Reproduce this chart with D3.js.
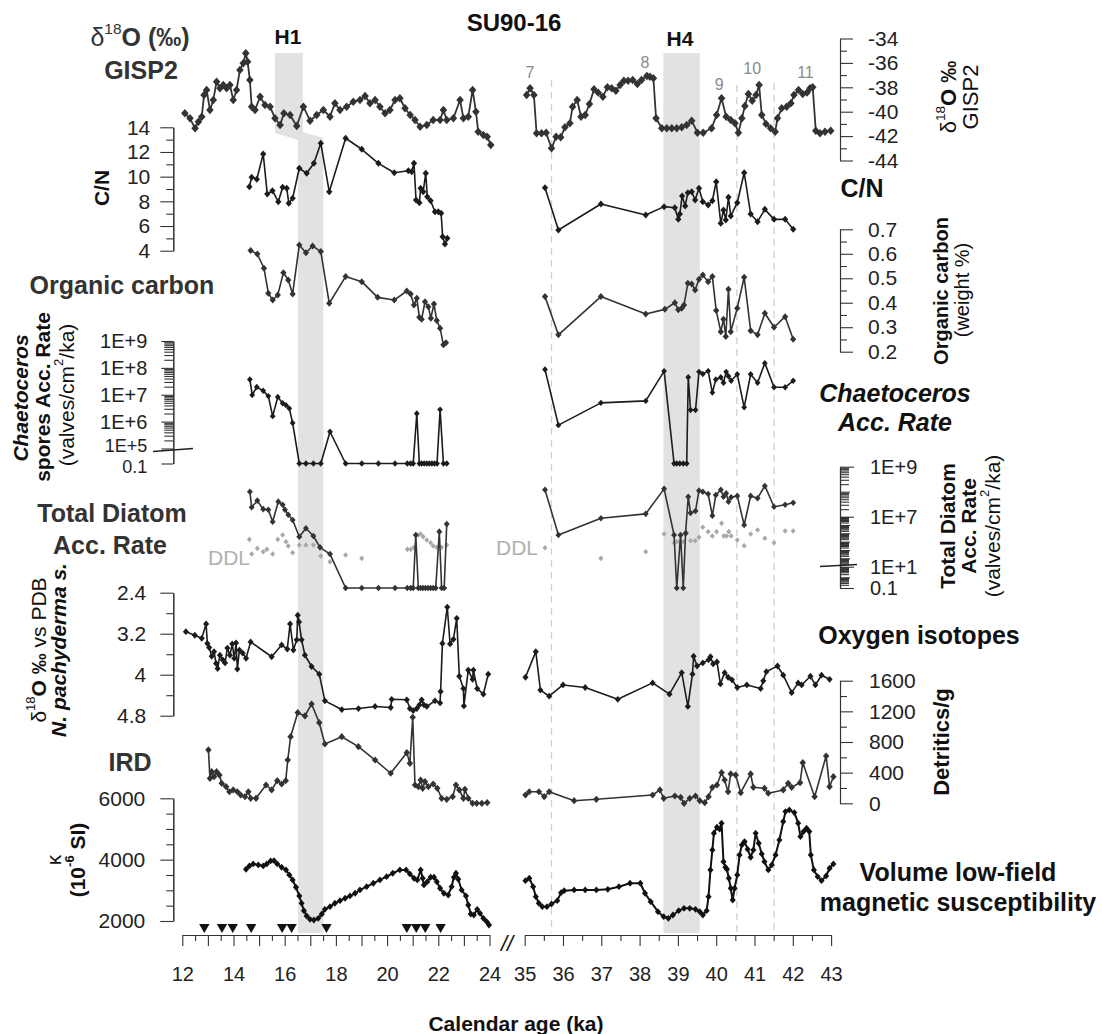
<!DOCTYPE html>
<html><head><meta charset="utf-8">
<script src="https://cdn.jsdelivr.net/npm/d3@7"></script>
<style>
body{margin:0;background:#fff}
svg{display:block}
text{font-family:"Liberation Sans",Arial,Helvetica,sans-serif}
</style>
</head><body>
<svg id="c" width="1102" height="1034"></svg>
<script>
// ---------------- DATA ----------------
const xTicksLeft = [12,13,14,15,16,17,18,19,20,21,22,23,24];
const xTicksRight = [35,36,37,38,39,40,41,42,43];
const heinrich = [{name:"H1", top:[15.62,16.71], bottom:[16.52,17.51]}, {name:"H4", top:[38.62,39.57], bottom:[38.62,39.57]}];
const dashedAges = [35.7,40.54,41.51];
const gispEvents = [["7",35.14],["8",38.14],["9",40.08],["10",40.94],["11",42.33]];
const ageControl = [12.86,13.55,13.97,14.69,15.9,16.27,17.63,20.77,21.14,21.49,22.09];

const gispLeft = [[12.1,-40.13],[12.3,-40.54],[12.5,-41.36],[12.63,-40.82],[12.76,-40.41],[12.85,-38.63],[12.95,-38.22],[13.08,-39.86],[13.21,-39.04],[13.34,-37.54],[13.47,-38.08],[13.6,-37.81],[13.73,-38.08],[13.86,-37.81],[13.99,-39.04],[14.12,-38.22],[14.25,-36.58],[14.38,-36.03],[14.48,-35.21],[14.55,-35.9],[14.64,-37.4],[14.71,-39.59],[14.84,-39.86],[15.04,-38.77],[15.23,-39.45],[15.43,-39.59],[15.62,-40.54],[15.82,-41.09],[15.97,-40.13],[16.21,-40.27],[16.47,-41.17],[16.73,-39.59],[16.99,-40.74],[17.25,-40.27],[17.51,-39.86],[17.77,-40.41],[17.96,-39.31],[18.16,-39.86],[18.42,-39.59],[18.68,-39.18],[18.94,-39.04],[19.14,-38.71],[19.33,-39.31],[19.53,-39.04],[19.72,-39.59],[19.92,-40.13],[20.11,-39.86],[20.31,-39.04],[20.5,-38.9],[20.7,-39.72],[20.9,-40.27],[21.09,-40.68],[21.29,-41.23],[21.55,-41.09],[21.8,-40.68],[22.07,-40.68],[22.2,-39.86],[22.33,-40.68],[22.59,-40.54],[22.85,-39.04],[22.98,-40.54],[23.17,-40.41],[23.34,-38.22],[23.47,-40.0],[23.56,-41.64],[23.76,-41.91],[23.91,-42.05],[24.05,-42.73]];
const gispRight = [[35.05,-38.63],[35.14,-38.08],[35.24,-38.63],[35.31,-41.77],[35.44,-41.77],[35.56,-41.72],[35.7,-43.0],[35.82,-42.05],[35.94,-42.1],[36.05,-41.28],[36.18,-40.95],[36.25,-39.59],[36.37,-39.04],[36.47,-40.41],[36.58,-40.27],[36.69,-39.37],[36.81,-38.16],[36.92,-38.44],[37.04,-38.77],[37.16,-38.0],[37.27,-38.08],[37.38,-38.28],[37.49,-37.81],[37.59,-37.46],[37.7,-37.46],[37.82,-37.4],[37.94,-37.73],[38.05,-37.4],[38.19,-37.07],[38.27,-37.13],[38.36,-37.26],[38.43,-40.54],[38.58,-41.36],[38.71,-41.36],[38.84,-41.36],[38.97,-41.36],[39.1,-41.28],[39.23,-41.09],[39.36,-40.74],[39.51,-41.72],[39.66,-41.72],[39.88,-41.36],[40.01,-40.27],[40.14,-38.9],[40.26,-40.41],[40.38,-40.68],[40.49,-40.95],[40.58,-41.72],[40.67,-40.54],[40.75,-39.53],[40.84,-38.55],[40.94,-39.1],[41.04,-38.63],[41.12,-37.81],[41.19,-40.27],[41.3,-41.0],[41.42,-41.36],[41.54,-41.64],[41.6,-40.54],[41.71,-39.72],[41.84,-39.59],[41.95,-39.31],[42.03,-38.63],[42.15,-38.22],[42.26,-38.55],[42.37,-38.44],[42.45,-38.08],[42.52,-38.0],[42.6,-41.56],[42.71,-41.77],[42.84,-41.64],[42.99,-41.56]];

const cnLeft = [[14.62,9.19],[14.71,9.95],[14.91,9.79],[15.16,11.84],[15.32,8.59],[15.52,8.86],[15.75,7.97],[15.92,9.14],[16.08,9.06],[16.16,7.84],[16.31,8.25],[16.57,10.68],[16.86,10.27],[17.14,11.08],[17.41,12.7],[17.74,8.78],[18.38,13.11],[19.01,12.22],[19.66,11.08],[20.28,10.32],[20.83,10.48],[20.96,10.4],[21.05,11.08],[21.13,8.11],[21.26,7.89],[21.31,9.06],[21.41,8.78],[21.51,10.27],[21.57,8.38],[21.7,8.05],[21.87,7.16],[22.0,7.16],[22.11,7.03],[22.17,5.13],[22.26,4.54],[22.35,5.0]];
const cnRight = [[35.53,9.11],[35.88,5.68],[36.99,7.78],[38.16,6.89],[38.64,7.57],[38.92,7.48],[39.01,6.54],[39.05,6.97],[39.11,8.43],[39.19,7.62],[39.26,8.7],[39.36,8.78],[39.45,8.11],[39.55,9.06],[39.65,7.97],[39.79,7.7],[39.9,8.05],[40.0,9.59],[40.12,6.22],[40.19,7.3],[40.25,6.49],[40.32,8.33],[40.38,6.81],[40.55,7.89],[40.73,10.32],[40.9,6.97],[41.08,6.35],[41.27,7.35],[41.51,6.54],[41.8,6.54],[42.01,5.73]];

const ocLeft = [[14.67,0.613],[14.93,0.599],[15.19,0.541],[15.36,0.439],[15.53,0.411],[15.73,0.432],[15.95,0.523],[16.14,0.493],[16.31,0.436],[16.57,0.636],[16.83,0.604],[17.09,0.632],[17.41,0.609],[17.74,0.398],[18.38,0.507],[19.01,0.486],[19.63,0.422],[20.28,0.411],[20.77,0.448],[20.92,0.436],[21.05,0.391],[21.16,0.418],[21.26,0.341],[21.35,0.333],[21.48,0.404],[21.61,0.384],[21.71,0.337],[21.83,0.395],[21.94,0.327],[22.07,0.296],[22.2,0.228],[22.3,0.237]];
const ocRight = [[35.53,0.425],[35.88,0.269],[36.99,0.425],[38.16,0.354],[38.66,0.373],[38.92,0.4],[39.01,0.371],[39.1,0.378],[39.16,0.391],[39.26,0.48],[39.36,0.477],[39.45,0.452],[39.55,0.496],[39.65,0.513],[39.79,0.486],[39.9,0.507],[40.0,0.368],[40.12,0.282],[40.19,0.333],[40.25,0.262],[40.32,0.455],[40.38,0.282],[40.55,0.378],[40.73,0.504],[40.9,0.286],[41.08,0.269],[41.27,0.357],[41.51,0.3],[41.8,0.343],[42.01,0.251]];

// Chaetoceros spores acc. rate (valves/cm2/ka); 0.1 = not found
const chLeft = [[14.64,3.7e7],[14.73,9.8e6],[14.91,1.95e7],[15.16,1.4e7],[15.36,8.9e6],[15.53,1.6e6],[15.73,8.3e6],[15.92,4.8e6],[16.05,4.1e6],[16.18,3.1e6],[16.31,8.9e5],[16.57,0.1],[16.83,0.1],[17.12,0.1],[17.41,0.1],[17.77,4.2e5],[18.38,0.1],[19.01,0.1],[19.66,0.1],[20.31,0.1],[20.79,0.1],[20.92,0.1],[21.02,0.1],[21.16,2.0e6],[21.26,0.1],[21.35,0.1],[21.45,0.1],[21.55,0.1],[21.65,0.1],[21.75,0.1],[21.85,0.1],[21.95,0.1],[22.07,2.8e6],[22.2,0.1],[22.33,0.1]];
const chRight = [[35.53,8.7e7],[35.88,7.4e5],[36.99,5.0e6],[38.16,5.9e6],[38.64,7.6e7],[38.9,0.1],[38.97,0.1],[39.05,0.1],[39.14,0.1],[39.23,0.1],[39.27,4.5e7],[39.33,2.7e6],[39.46,2.7e6],[39.55,7.1e7],[39.65,5.9e7],[39.79,7.6e7],[39.9,1.2e7],[39.99,3.7e7],[40.12,4.5e7],[40.19,2.8e7],[40.26,7.1e7],[40.32,4.9e7],[40.39,3.3e7],[40.55,5.8e7],[40.73,3.4e6],[40.9,5.8e7],[41.08,2.8e7],[41.27,1.5e8],[41.51,1.9e7],[41.8,1.9e7],[42.01,3.3e7]];

// Total diatom acc. rate and detection limit (DDL)
const diLeft = [[14.64,1.0e8],[14.71,2.4e7],[14.93,4.4e7],[15.16,2.0e7],[15.36,1.9e7],[15.53,2.5e6],[15.75,4.0e7],[15.92,3.0e7],[16.01,1.9e7],[16.14,1.2e7],[16.31,4.0e6],[16.57,4.0e4],[16.83,4.1e5],[17.12,4.8e4],[17.38,2.1e3],[17.77,330],[18.38,0.1],[19.01,0.1],[19.66,0.1],[20.31,0.1],[20.79,0.1],[20.92,0.1],[21.02,0.1],[21.12,6.3e4],[21.22,0.1],[21.31,0.1],[21.4,0.1],[21.5,0.1],[21.6,0.1],[21.7,0.1],[21.8,0.1],[21.9,0.1],[22.04,1.6e5],[22.13,0.1],[22.23,0.1],[22.33,1.3e6]];
const diRight = [[35.53,1.2e8],[35.88,6.3e4],[36.99,6.5e6],[38.16,1.3e7],[38.64,1.3e8],[38.9,6.3e4],[38.97,0.1],[39.07,6.3e4],[39.14,0.1],[39.2,1.0e5],[39.27,6.3e7],[39.33,1.4e7],[39.46,1.7e7],[39.55,1.1e8],[39.65,1.0e8],[39.79,8.1e7],[39.9,1.1e7],[39.99,7.4e7],[40.12,1.2e8],[40.19,6.3e7],[40.26,8.7e7],[40.32,4.0e7],[40.39,6.0e7],[40.55,6.8e7],[40.73,1.0e6],[40.9,6.8e7],[41.08,5.5e7],[41.27,1.7e8],[41.51,2.5e7],[41.8,3.0e7],[42.01,3.6e7]];
const ddlLeft = [[14.62,1.9e4],[14.71,330],[14.93,1.6e3],[15.16,630],[15.3,1.2e3],[15.53,330],[15.73,1.9e4],[15.92,6.3e4],[16.05,1.0e4],[16.14,3.0e3],[16.31,480],[16.57,4.0e3],[16.83,4.0e3],[17.12,4.0e3],[17.41,190],[17.77,40],[18.38,250],[19.01,100],[20.79,1.2e3],[20.92,1.2e3],[21.05,2.1e3],[21.22,6.3e4],[21.31,8.3e4],[21.41,4.0e4],[21.55,1.6e4],[21.7,7.6e3],[21.8,3.0e3],[21.94,2.1e3],[22.13,2.1e3],[22.33,4.0e3]];
const ddlRight = [[35.53,1.9e3],[36.99,100],[38.16,630],[38.64,8.3e4],[38.9,7.6e3],[38.97,1.0e4],[39.05,1.0e4],[39.14,1.0e4],[39.23,1.2e5],[39.33,1.3e4],[39.45,1.3e4],[39.55,3.4e4],[39.65,5.4e5],[39.79,1.6e5],[39.9,4.8e4],[40.01,1.6e5],[40.14,1.6e6],[40.2,4.8e4],[40.27,4.8e4],[40.33,1.6e5],[40.39,4.8e4],[40.55,1.6e4],[40.73,3.3e3],[40.9,8.3e4],[41.08,2.5e5],[41.27,2.6e4],[41.51,7.6e3],[41.8,1.9e5],[42.01,1.9e5]];

// N. pachyderma s. d18O (permil vs PDB)
const oxLeft = [[12.14,3.16],[12.49,3.23],[12.76,3.29],[12.93,3.01],[12.98,3.39],[13.05,3.47],[13.15,3.64],[13.24,3.55],[13.32,3.78],[13.38,3.88],[13.47,3.62],[13.58,3.71],[13.67,3.77],[13.76,3.48],[13.86,3.62],[13.95,3.4],[14.03,3.68],[14.1,3.38],[14.15,3.89],[14.23,3.52],[14.36,3.58],[14.49,3.68],[14.67,3.36],[15.49,3.65],[15.88,3.42],[16.1,3.5],[16.21,3.01],[16.34,3.52],[16.47,3.32],[16.51,2.84],[16.56,2.97],[16.66,3.32],[16.79,3.62],[17.05,3.84],[17.35,3.99],[17.57,4.51],[18.23,4.68],[18.88,4.66],[19.53,4.62],[20.14,4.64],[20.18,4.48],[20.77,4.49],[20.89,4.66],[21.02,4.7],[21.16,4.66],[21.26,4.59],[21.35,4.49],[21.44,4.59],[21.55,4.62],[21.87,4.51],[22.07,4.55],[22.09,4.33],[22.16,3.39],[22.35,2.68],[22.46,3.4],[22.59,3.31],[22.72,2.9],[22.82,4.03],[22.98,4.27],[23.0,4.61],[23.17,3.91],[23.34,4.09],[23.37,3.91],[23.52,4.27],[23.76,4.38],[23.95,3.99]];
const oxRight = [[35.02,4.05],[35.29,3.55],[35.41,4.3],[35.64,4.42],[36.0,4.2],[36.58,4.25],[37.43,4.48],[38.34,4.16],[38.78,4.38],[39.1,3.96],[39.26,4.62],[39.38,3.99],[39.41,3.64],[39.5,3.83],[39.65,3.77],[39.8,3.71],[39.85,3.65],[39.92,3.79],[40.02,3.75],[40.11,4.18],[40.22,3.96],[40.31,4.05],[40.41,4.1],[40.55,4.25],[40.8,4.2],[41.16,4.27],[41.23,4.12],[41.31,3.94],[41.6,3.83],[41.75,4.01],[41.97,4.35],[42.14,4.16],[42.23,4.2],[42.46,4.03],[42.59,4.2],[42.75,4.01],[42.96,4.09]];

// IRD (detritics/g)
const irdLeft = [[13.02,696],[13.08,326],[13.15,413],[13.24,347],[13.34,413],[13.45,369],[13.54,261],[13.71,217],[13.84,151],[13.99,174],[14.15,151],[14.28,108],[14.45,86],[14.58,151],[14.67,65],[14.88,65],[15.27,239],[15.49,174],[15.71,295],[15.88,252],[16.04,295],[16.12,565],[16.23,869],[16.51,1183],[16.79,1140],[17.05,1296],[17.35,1052],[17.57,774],[18.23,869],[18.88,739],[19.53,565],[20.14,392],[20.77,661],[20.89,522],[21.0,1123],[21.09,239],[21.22,217],[21.31,304],[21.39,196],[21.48,282],[21.61,217],[21.8,252],[21.96,196],[22.13,65],[22.33,52],[22.56,86],[22.69,239],[22.82,174],[22.98,65],[23.04,183],[23.17,65],[23.34,0],[23.5,0],[23.7,0],[23.91,8]];
const irdRight = [[35.02,108],[35.12,151],[35.37,151],[35.51,86],[35.64,151],[36.29,34],[36.87,52],[38.34,108],[38.53,174],[38.63,65],[38.92,95],[39.07,78],[39.16,0],[39.31,65],[39.46,95],[39.57,34],[39.7,8],[39.8,86],[39.9,209],[40.02,239],[40.14,400],[40.22,304],[40.31,151],[40.38,383],[40.51,369],[40.64,138],[40.9,383],[40.97,209],[41.26,196],[41.36,131],[41.75,174],[41.88,261],[41.97,209],[42.19,269],[42.26,530],[42.57,86],[42.87,617],[42.96,217],[43.06,347]];

// Magnetic susceptibility (10^-6 SI)
const msLeft = [[14.49,3687],[14.62,3795],[14.77,3860],[14.97,3827],[15.16,3795],[15.3,3860],[15.45,3958],[15.58,3968],[15.71,3860],[15.88,3752],[16.05,3664],[16.18,3501],[16.31,3338],[16.44,3100],[16.57,2816],[16.66,2578],[16.75,2336],[16.86,2163],[16.99,2055],[17.14,2033],[17.31,2088],[17.45,2228],[17.57,2382],[17.77,2467],[17.96,2578],[18.16,2662],[18.36,2741],[18.55,2816],[18.75,2904],[18.94,3012],[19.2,3119],[19.46,3230],[19.72,3338],[19.98,3446],[20.22,3556],[20.5,3664],[20.74,3664],[20.89,3534],[21.05,3393],[21.18,3338],[21.31,3664],[21.39,3393],[21.44,3175],[21.57,3282],[21.7,3426],[21.83,3426],[21.94,3282],[22.07,3067],[22.22,2904],[22.39,2848],[22.52,3119],[22.61,3426],[22.69,3556],[22.78,3361],[22.91,3012],[23.08,2816],[23.17,2522],[23.27,2228],[23.39,2196],[23.52,2382],[23.63,2251],[23.76,2088],[23.89,1977],[23.98,1869]];
const msRight = [[35.02,3315],[35.12,3393],[35.22,3119],[35.29,2793],[35.37,2578],[35.46,2467],[35.58,2467],[35.7,2555],[35.85,2662],[35.95,2923],[36.03,2989],[36.29,3012],[36.58,3012],[36.87,3012],[37.17,3034],[37.46,3119],[37.75,3230],[38.02,3230],[38.14,2904],[38.29,2630],[38.48,2303],[38.63,2140],[38.75,2088],[38.87,2196],[39.02,2336],[39.16,2414],[39.31,2414],[39.46,2382],[39.57,2303],[39.65,2196],[39.75,2336],[39.8,2793],[39.85,3664],[39.9,4317],[39.94,4862],[40.02,5057],[40.09,4992],[40.14,5188],[40.19,3935],[40.24,3752],[40.28,3687],[40.33,3393],[40.38,3067],[40.43,2685],[40.48,3067],[40.55,3501],[40.61,4154],[40.67,4480],[40.74,4588],[40.82,4340],[40.9,4079],[40.97,4317],[41.03,4862],[41.11,4535],[41.19,4186],[41.26,3935],[41.36,3664],[41.45,3827],[41.55,4154],[41.65,4643],[41.75,5240],[41.81,5567],[41.91,5622],[42.04,5534],[42.14,5188],[42.2,4751],[42.28,4914],[42.36,5025],[42.43,4914],[42.47,4154],[42.55,3664],[42.65,3446],[42.75,3315],[42.87,3468],[42.96,3720],[43.06,3860]];

// ---------------- SCALES ----------------
const svg = d3.select("#c");
const xL = d3.scaleLinear().domain([12,24]).range([182.3,489.5]);
const xR = d3.scaleLinear().domain([35,43]).range([524.7,831.1]);
const X = ka => ka < 30 ? xL(ka) : xR(ka);

const yGisp = d3.scaleLinear().domain([-44,-34]).range([160.5,38.5]);
const yCN = d3.scaleLinear().domain([4,14]).range([250.7,127.3]);
const yOC = d3.scaleLinear().domain([0.2,0.7]).range([351.7,229.3]);
const yCh = d3.scaleLog().domain([0.1,1e5,1e9]).range([463.5,448.5,341]);
const yDi = d3.scaleLog().domain([0.1,10,1e7,1e9]).range([588,566.7,516.7,466.7]);
const yOx = d3.scaleLinear().domain([2.4,4.8]).range([592.7,715.7]);
const yIRD = d3.scaleLinear().domain([0,1600]).range([803.3,680.7]);
const yMS = d3.scaleLinear().domain([2000,6000]).range([921,798.3]);

const AX_L = 173.3, AX_R = 840, AXIS_Y = 935;

// ---------------- BACKGROUND: bands & dashed lines ----------------
const bandG = svg.append("g");
heinrich.forEach(h => {
  const pts = h.name === "H1"
    ? [[xL(h.top[0]),53],[xL(h.top[1]),53],[xL(h.top[1]),132],[xL(h.bottom[1]),138],[xL(h.bottom[1]),933],[xL(h.bottom[0]),933],[xL(h.bottom[0]),140],[xL(h.top[0]),133]]
    : [[xR(h.top[0]),53],[xR(h.top[1]),53],[xR(h.top[1]),933],[xR(h.top[0]),933]];
  bandG.append("polygon").attr("points", pts.map(p=>p.join(",")).join(" ")).attr("fill","#e2e2e2");
});
const dashTops = [80,85,83];
dashedAges.forEach((a,i) => {
  svg.append("line").attr("x1",xR(a)).attr("x2",xR(a)).attr("y1",dashTops[i]).attr("y2",933)
    .attr("stroke","#d0d0d0").attr("stroke-width",1.3).attr("stroke-dasharray","7,5");
});

// ---------------- SERIES ----------------
function series(data, y, o) {
  const g = svg.append("g");
  if (o.line !== false) {
    const line = d3.line().x(d=>X(d[0])).y(d=>y(d[1]));
    g.append("path").attr("d", line(data)).attr("fill","none").attr("stroke",o.c)
      .attr("stroke-width",o.w||1.6).attr("stroke-linejoin","round");
  }
  const s = o.s||3.5, sw = s*0.9;
  g.selectAll("path.m").data(data).join("path").attr("class","m")
    .attr("d",`M0,${-s}L${sw},0L0,${s}L${-sw},0Z`)
    .attr("transform",d=>`translate(${X(d[0])},${y(d[1])})`).attr("fill",o.c);
}
const dark = "#1c1c1c", mid = "#333";
series(gispLeft, yGisp, {c:mid, s:4.2, w:1.8});
series(gispRight, yGisp, {c:mid, s:4.2, w:1.8});
series(cnLeft, yCN, {c:dark});
series(cnRight, yCN, {c:dark});
series(ocLeft, yOC, {c:mid});
series(ocRight, yOC, {c:mid});
series(chLeft, yCh, {c:dark, s:3.2});
series(chRight, yCh, {c:dark, s:3.2});
series(ddlLeft, yDi, {c:"#a8a8a8", s:2.8, line:false});
series(ddlRight, yDi, {c:"#a8a8a8", s:2.8, line:false});
series(diLeft, yDi, {c:mid, s:3.3});
series(diRight, yDi, {c:mid, s:3.3});
series(oxLeft, yOx, {c:dark, s:3.4});
series(oxRight, yOx, {c:dark, s:3.4});
series(irdLeft, yIRD, {c:mid, s:3.6});
series(irdRight, yIRD, {c:mid, s:3.6});
series(msLeft, yMS, {c:"#111", s:3.4, w:2});
series(msRight, yMS, {c:"#111", s:3.4, w:2});

// ---------------- AXES ----------------
function styleAxis(g, size) {
  g.selectAll("path.domain").attr("stroke","#333").attr("stroke-width",1.1);
  g.selectAll(".tick line").attr("stroke","#333").attr("stroke-width",1.1);
  g.selectAll("text").attr("font-family",'"Liberation Sans",Arial,sans-serif').attr("font-size",size||20).attr("fill","#222");
}
function vAxis(side, y, major, minor, fmt, opt={}) {
  const x = side==="left" ? AX_L : AX_R;
  const mk = side==="left" ? d3.axisLeft : d3.axisRight;
  const gMin = svg.append("g").attr("transform",`translate(${x},0)`)
    .call(mk(y).tickValues(minor).tickSize(opt.minorSize||7).tickSizeOuter(0).tickFormat(""));
  styleAxis(gMin);
  if (opt.mid) {
    const gMid = svg.append("g").attr("transform",`translate(${x},0)`)
      .call(mk(y).tickValues(opt.mid).tickSize(10).tickSizeOuter(0).tickFormat(""));
    styleAxis(gMid);
  }
  const gMaj = svg.append("g").attr("transform",`translate(${x},0)`)
    .call(mk(y).tickValues(major).tickSize(opt.majorSize||13).tickSizeOuter(0).tickPadding(opt.pad||12).tickFormat(fmt));
  styleAxis(gMaj, opt.font);
  return gMaj;
}
const str = d => String(d);
const logFmt = d => d < 1 ? "0.1" : "1E+" + Math.round(Math.log10(d));
function logMinor(k0,k1){ const a=[]; for(let k=k0;k<=k1;k++) for(let m=2;m<=9;m++) a.push(m*Math.pow(10,k)); return a; }

vAxis("right", yGisp, [-34,-36,-38,-40,-42,-44], [-35,-37,-39,-41,-43], str, {pad:15, font:21});
vAxis("left", yCN, [4,6,8,10,12,14], [5,7,9,11,13], str, {pad:10, font:21});
vAxis("right", yOC, [0.2,0.3,0.4,0.5,0.6,0.7], [0.25,0.35,0.45,0.55,0.65], str, {pad:15, font:21});
const chAx = vAxis("left", yCh, [0.1,1e5,1e6,1e7,1e8,1e9], logMinor(5,8), logFmt, {pad:14, font:20, minorSize:9, majorSize:12});
chAx.selectAll(".tick text").filter(d=>d===1e5).attr("font-size",18).attr("transform","translate(0,-3)");
chAx.selectAll(".tick text").filter(d=>d===0.1).attr("font-size",18).attr("transform","translate(0,3)");
vAxis("right", yDi, [0.1,10,1e7,1e9], logMinor(-1,8).filter(v=>v<1e9), logFmt, {pad:16, font:20, minorSize:9, majorSize:14, mid:[1,100,1e3,1e4,1e5,1e6,1e8]});
vAxis("left", yOx, [2.4,3.2,4,4.8], [2.8,3.6,4.4], str, {pad:14, font:21});
vAxis("right", yIRD, [0,400,800,1200,1600], [200,600,1000,1400], str, {pad:16, font:21});
vAxis("left", yMS, [2000,4000,6000], [2500,3000,3500,4500,5000,5500], str, {pad:15, font:21});

// axis breaks
svg.append("line").attr("x1",153).attr("y1",451.5).attr("x2",193).attr("y2",448.5).attr("stroke","#222").attr("stroke-width",1.6);
svg.append("line").attr("x1",820).attr("y1",566.5).attr("x2",857).attr("y2",564.5).attr("stroke","#222").attr("stroke-width",1.6);

// x axes
function xAxis(scale, ints, labelFn) {
  const halves = ints.slice(0,-1).map(v=>v+0.5);
  const g1 = svg.append("g").attr("transform",`translate(0,${AXIS_Y})`)
    .call(d3.axisBottom(scale).tickValues(halves).tickSize(6).tickSizeOuter(0).tickFormat(""));
  styleAxis(g1);
  const g2 = svg.append("g").attr("transform",`translate(0,${AXIS_Y})`)
    .call(d3.axisBottom(scale).tickValues(ints).tickSize(11).tickSizeOuter(0).tickPadding(21).tickFormat(labelFn));
  styleAxis(g2, 20);
}
xAxis(xL, xTicksLeft, d => d%2===0 ? d : "");
xAxis(xR, xTicksRight, d => d);

// age control triangles
svg.append("g").selectAll("path").data(ageControl).join("path")
  .attr("d","M-5.2,-5 L5.2,-5 L0,4 Z")
  .attr("transform",d=>`translate(${xL(d)},929)`).attr("fill","#111");

// ---------------- TEXT ----------------
function label(x, y, parts, o={}) {
  const t = svg.append("text").attr("x",x).attr("y",y)
    .attr("text-anchor",o.anchor||"middle").attr("dominant-baseline","central")
    .attr("font-size",o.size||25).attr("fill",o.fill||"#111")
    .attr("font-weight",o.weight||"bold").attr("font-style",o.style||"normal");
  if (o.rot) t.attr("transform",`rotate(${o.rot},${x},${y})`);
  (typeof parts === "string" ? [[parts,{}]] : parts).forEach(([s,p]) => {
    const ts = t.append("tspan").text(s);
    if (p.weight) ts.attr("font-weight",p.weight);
    if (p.style) ts.attr("font-style",p.style);
    if (p.sup) ts.attr("baseline-shift","super").attr("font-size","62%");
  });
  return t;
}
label(514, 22, "SU90-16", {size:24});
label(288, 36, "H1", {size:21});
label(680, 38, "H4", {size:21});
const evY = {"7":72,"8":62,"9":84,"10":68,"11":72};
gispEvents.forEach(([n,a]) => label(xR(a), evY[n], n, {size:16, weight:"normal", fill:"#8a8a8a"}));

label(140, 37, [["δ",{weight:"normal"}],["18",{weight:"normal",sup:true}],["O (‰)",{}]], {size:25, fill:"#333"});
label(141, 70, "GISP2", {size:25, fill:"#333"});
label(122, 285, "Organic carbon", {size:25, fill:"#333"});
label(112, 513, "Total Diatom", {size:25, fill:"#333"});
label(110, 545, "Acc. Rate", {size:25, fill:"#333"});
label(130, 762, "IRD", {size:25, fill:"#333"});
label(229, 557, "DDL", {size:21, weight:"normal", fill:"#b0b0b0"});
label(517, 547, "DDL", {size:21, weight:"normal", fill:"#b0b0b0"});

label(862, 188, "C/N", {size:25});
label(895, 393, "Chaetoceros", {size:25, style:"italic"});
label(895, 422, "Acc. Rate", {size:25, style:"italic"});
label(919, 635, "Oxygen isotopes", {size:25});
label(958, 872, "Volume low-field", {size:25});
label(958, 902, "magnetic susceptibility", {size:25});
label(516, 1023, "Calendar age (ka)", {size:21});
label(507, 943, "//", {size:22, weight:"normal", style:"italic"});

// rotated left titles
label(101, 188, "C/N", {size:21, rot:-90});
label(20, 398, "Chaetoceros", {size:21, rot:-90, style:"italic"});
label(42, 397, "spores Acc. Rate", {size:21, rot:-90});
label(66, 395, [["(valves/cm",{}],["2",{sup:true}],["/ka)",{}]], {size:21, rot:-90, weight:"normal"});
label(38, 650, [["δ",{}],["18",{sup:true}],["O ‰",{weight:"bold"}],[" vs PDB",{}]], {size:21, rot:-90, weight:"normal"});
label(58, 650, "N. pachyderma s.", {size:21, rot:-90, style:"italic"});
label(53, 860, "κ", {size:21, rot:-90, weight:"normal"});
label(77, 860, [["(10",{}],["-6",{sup:true}],[" SI)",{}]], {size:21, rot:-90});

// rotated right titles
label(948, 97, [["δ",{weight:"normal"}],["18",{weight:"normal",sup:true}],["O ‰",{}]], {size:22, rot:-90});
label(970, 97, "GISP2", {size:22, rot:-90, weight:"normal"});
label(941, 291, "Organic carbon", {size:20, rot:-90});
label(962, 290, "(weight %)", {size:20, rot:-90, weight:"normal"});
label(947, 526, "Total Diatom", {size:21, rot:-90});
label(968, 526, "Acc. Rate", {size:21, rot:-90});
label(992, 526, [["(valves/cm",{}],["2",{sup:true}],["/ka)",{}]], {size:21, rot:-90, weight:"normal"});
label(941, 742, "Detritics/g", {size:22, rot:-90});
</script>
</body></html>
